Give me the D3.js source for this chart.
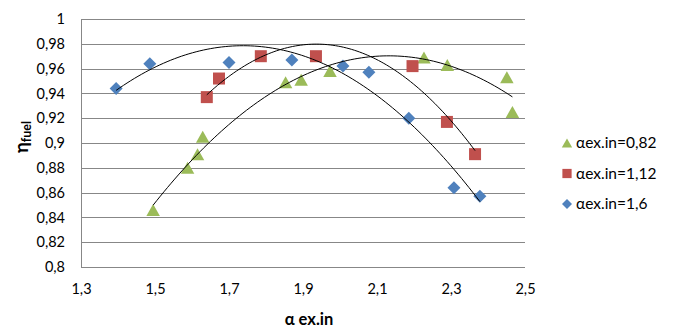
<!DOCTYPE html>
<html>
<head>
<meta charset="utf-8">
<script src="https://cdn.jsdelivr.net/npm/d3@7"></script>
<style>
  html, body { margin: 0; padding: 0; background: #fff; }
  svg { display: block; }
  text { font-family: Lato, "Open Sans", sans-serif; fill: #000; }
</style>
</head>
<body>
<div id="chart"></div>
<script>
// ---- data ----
const seriesNames = ["αex.in=0,82", "αex.in=1,12", "αex.in=1,6"];
const greenX = [1.495, 1.588, 1.615, 1.629, 1.853, 1.895, 1.973, 2.227, 2.290, 2.451, 2.466];
const greenY = [0.846, 0.880, 0.891, 0.905, 0.949, 0.951, 0.958, 0.969, 0.963, 0.953, 0.925];
const redX = [1.640, 1.673, 1.786, 1.935, 2.196, 2.289, 2.365];
const redY = [0.937, 0.952, 0.970, 0.970, 0.962, 0.917, 0.891];
const blueX = [1.395, 1.486, 1.700, 1.870, 2.008, 2.078, 2.186, 2.308, 2.378];
const blueY = [0.944, 0.964, 0.965, 0.967, 0.962, 0.957, 0.920, 0.864, 0.857];
const xTicks = [1.3, 1.5, 1.7, 1.9, 2.1, 2.3, 2.5];
const yTicks = [0.8, 0.82, 0.84, 0.86, 0.88, 0.9, 0.92, 0.94, 0.96, 0.98, 1];

const W = 673, H = 335;
const m = { left: 81, right: 525, top: 19, bottom: 267 };

const svg = d3.select("#chart").append("svg").attr("width", W).attr("height", H);
const x = d3.scaleLinear().domain([1.3, 2.5]).range([m.left, m.right]);
const y = d3.scaleLinear().domain([0.8, 1.0]).range([m.bottom, m.top]);
const fmt = v => String(+v.toFixed(2)).replace(".", ",");

// gridlines
svg.append("g").selectAll("line").data(yTicks).join("line")
  .attr("x1", m.left).attr("x2", m.right)
  .attr("y1", d => Math.round(y(d)) + 0.5).attr("y2", d => Math.round(y(d)) + 0.5)
  .attr("stroke", "#878787").attr("stroke-width", 1);
// y axis line
svg.append("line").attr("x1", m.left + 0.5).attr("x2", m.left + 0.5)
  .attr("y1", m.top).attr("y2", m.bottom + 0.5).attr("stroke", "#878787");

// y tick labels
const yAxis = d3.axisLeft(y).tickValues(yTicks).tickFormat(fmt).tickSize(0).tickPadding(16);
const gy = svg.append("g").attr("transform", `translate(${m.left},0)`).call(yAxis);
gy.select(".domain").remove();
gy.selectAll("text").style("font-family", "Lato, sans-serif").style("font-size", "14.5px").attr("fill", "#000");

// x tick labels
const xAxis = d3.axisBottom(x).tickValues(xTicks).tickFormat(fmt).tickSize(0).tickPadding(17);
const gx = svg.append("g").attr("transform", `translate(0,${m.bottom})`).call(xAxis);
gx.select(".domain").remove();
gx.selectAll("text").style("font-family", "Lato, sans-serif").style("font-size", "14.5px").attr("fill", "#000");

// quadratic least-squares trendline
function quadFit(xs, ys) {
  const n = xs.length;
  let s = [0,0,0,0,0], t = [0,0,0];
  for (let i = 0; i < n; i++) {
    const a = xs[i], b = ys[i];
    s[0] += 1; s[1] += a; s[2] += a*a; s[3] += a*a*a; s[4] += a*a*a*a;
    t[0] += b; t[1] += a*b; t[2] += a*a*b;
  }
  const M = [[s[0], s[1], s[2], t[0]], [s[1], s[2], s[3], t[1]], [s[2], s[3], s[4], t[2]]];
  for (let i = 0; i < 3; i++) {
    let p = i;
    for (let r = i+1; r < 3; r++) if (Math.abs(M[r][i]) > Math.abs(M[p][i])) p = r;
    [M[i], M[p]] = [M[p], M[i]];
    for (let r = 0; r < 3; r++) if (r !== i) {
      const f = M[r][i] / M[i][i];
      for (let c = i; c < 4; c++) M[r][c] -= f * M[i][c];
    }
  }
  const c = M.map((row, i) => row[3] / row[i]);
  return v => c[0] + c[1]*v + c[2]*v*v;
}

// marker shapes (bounding box centred on the point, like Excel)
const tri = (w, h) => `M0,${-h/2}L${w/2},${h/2}L${-w/2},${h/2}Z`;
const sq = (a) => `M${-a/2},${-a/2}h${a}v${a}h${-a}Z`;
const dia = (a) => `M0,${-a/2}L${a/2},0L0,${a/2}L${-a/2},0Z`;

const series = [
  { xs: greenX, ys: greenY, color: "#9BBB59", shape: k => tri(13.5 * k, 12 * k) },
  { xs: redX, ys: redY, color: "#C0504D", shape: k => sq(12 * k) },
  { xs: blueX, ys: blueY, color: "#4F81BD", shape: k => dia(13 * k) }
];

const line = d3.line().x(d => x(d[0])).y(d => y(d[1]));
series.forEach(s => {
  const f = quadFit(s.xs, s.ys);
  const [x0, x1] = d3.extent(s.xs);
  s.trend = d3.range(0, 101).map(i => { const v = x0 + (x1 - x0) * i / 100; return [v, f(v)]; });
});

// markers first, trendlines on top
series.forEach(s => {
  svg.append("g").selectAll("path").data(s.xs.map((v, i) => [v, s.ys[i]])).join("path")
    .attr("d", s.shape(1))
    .attr("transform", d => `translate(${x(d[0])},${y(d[1])})`)
    .attr("fill", s.color);
});
series.forEach(s => {
  svg.append("path").datum(s.trend).attr("d", line)
    .attr("fill", "none").attr("stroke", "#000").attr("stroke-width", 1);
});

// legend
const lg = svg.append("g");
series.forEach((s, i) => {
  const ly = 143 + i * 30.5;
  lg.append("path").attr("d", s.shape(0.77))
    .attr("transform", `translate(567,${ly})`).attr("fill", s.color);
  lg.append("text").attr("x", 576).attr("y", ly).attr("dy", "0.35em")
    .style("font-size", "15.5px").text(seriesNames[i]);
});

// axis titles
svg.append("text").attr("x", 309).attr("y", 319).attr("dy", "0.35em")
  .attr("text-anchor", "middle").style("font-size", "16.5px").style("font-weight", "bold")
  .text("α ex.in");

const yt = svg.append("text").attr("transform", "translate(28,137) rotate(-90)")
  .attr("text-anchor", "middle").style("font-weight", "bold");
yt.append("tspan").style("font-size", "18px").text("η");
yt.append("tspan").style("font-size", "12.5px").attr("dy", "3").text("fuel");
</script>
</body>
</html>
